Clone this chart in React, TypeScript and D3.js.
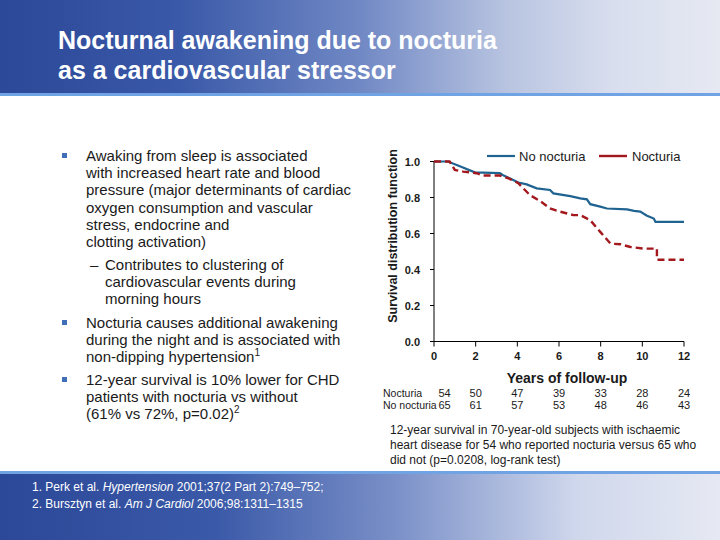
import React from "react";
import * as d3 from "d3";

const titleLines = ["Nocturnal awakening due to nocturia", "as a cardiovascular stressor"];

const yearsNoNocturia = [0, 0.67, 1.24, 1.96, 3.16, 3.3, 4.05, 4.45, 4.93, 5.57, 5.73, 6.54, 7.02, 7.34, 7.5, 7.98, 8.3, 9.27, 9.6, 9.9, 10.2, 10.55, 10.63, 12];
const survNoNocturia = [1.0, 1.0, 0.974, 0.94, 0.935, 0.925, 0.883, 0.873, 0.851, 0.842, 0.823, 0.808, 0.795, 0.79, 0.763, 0.749, 0.739, 0.734, 0.726, 0.722, 0.7, 0.683, 0.665, 0.665];

const yearsNocturia = [0, 0.75, 1.0, 1.4, 2.04, 2.36, 3.16, 3.57, 4.05, 4.6, 5.1, 5.57, 6.06, 6.7, 7.02, 7.5, 7.98, 8.47, 8.95, 9.43, 10.07, 10.7, 10.7, 12];
const survNocturia = [1.0, 1.0, 0.953, 0.944, 0.935, 0.922, 0.922, 0.907, 0.879, 0.814, 0.78, 0.739, 0.721, 0.702, 0.702, 0.674, 0.609, 0.544, 0.54, 0.525, 0.516, 0.516, 0.454, 0.454];

const xTicks = [0, 2, 4, 6, 8, 10, 12];
const yTicks = [0, 0.2, 0.4, 0.6, 0.8, 1.0];
const atRiskNocturia = [54, 50, 47, 39, 33, 28, 24];
const atRiskNoNocturia = [65, 61, 57, 53, 48, 46, 43];

const seriesNames = ["No nocturia", "Nocturia"];

const captionLines = [
  "12-year survival in 70-year-old subjects with ischaemic",
  "heart disease for 54 who reported nocturia versus 65 who",
  "did not (p=0.0208, log-rank test)",
];

const BLUE = "#1f6391";
const RED = "#a3181d";
const TXT = "#1a1a1a";
const FONT = "'Liberation Sans', Arial, sans-serif";

export default function App() {
  const x = d3.scaleLinear().domain([0, 12]).range([434, 684]);
  const y = d3.scaleLinear().domain([0, 1]).range([341.5, 161.5]);

  const line = d3
    .line<[number, number]>()
    .x((d) => x(d[0]))
    .y((d) => y(d[1]));

  const blueData: [number, number][] = yearsNoNocturia.map((t, i) => [t, survNoNocturia[i]]);
  const redData: [number, number][] = yearsNocturia.map((t, i) => [t, survNocturia[i]]);

  const bullet = (cx: number, cy: number) => (
    <rect x={cx} y={cy - 3} width={5} height={5} fill="#3f6fb6" />
  );

  const lh = 17.2;
  const para1 = [
    "Awaking from sleep is associated",
    "with increased heart rate and blood",
    "pressure (major determinants of cardiac",
    "oxygen consumption and vascular",
    "stress, endocrine and",
    "clotting activation)",
  ];
  const sub = ["Contributes to clustering of", "cardiovascular events during", "morning hours"];
  const para2 = ["Nocturia causes additional awakening", "during the night and is associated with"];
  const para3 = ["12-year survival is 10% lower for CHD", "patients with nocturia vs without"];

  return (
    <svg
      width={720}
      height={540}
      style={{ position: "absolute", left: 0, top: 0 }}
      fontFamily={FONT}
    >
      <defs>
        <linearGradient id="hdr" x1="0" x2="1" y1="0" y2="0">
          <stop offset="0" stopColor="#2c4898" />
          <stop offset="0.25" stopColor="#3a59a8" />
          <stop offset="0.5" stopColor="#7088c4" />
          <stop offset="0.7" stopColor="#b7c3e0" />
          <stop offset="0.85" stopColor="#d8deee" />
          <stop offset="1" stopColor="#e6e9f2" />
        </linearGradient>
        <linearGradient id="ftr" x1="0" x2="1" y1="0" y2="0">
          <stop offset="0" stopColor="#2c4898" />
          <stop offset="0.3" stopColor="#3a59a8" />
          <stop offset="0.55" stopColor="#7a90c8" />
          <stop offset="0.8" stopColor="#cfd7ec" />
          <stop offset="1" stopColor="#e6e9f3" />
        </linearGradient>
      </defs>
      <rect x={0} y={0} width={720} height={540} fill="#ffffff" />
      <rect x={0} y={0} width={720} height={93} fill="url(#hdr)" />
      <rect x={0} y={93} width={720} height={3} fill="#6fa3e3" />
      <rect x={0} y={471} width={720} height={3} fill="#6fa3e3" />
      <rect x={0} y={474} width={720} height={66} fill="url(#ftr)" />

      {titleLines.map((t, i) => (
        <text key={t} x={58} y={49 + i * 30} fill="#ffffff" fontSize={25} fontWeight="bold">
          {t}
        </text>
      ))}

      {/* left bullet text */}
      <g fontSize={15} fill={TXT}>
        {bullet(62, 156)}
        {para1.map((t, i) => (
          <text key={t} x={86} y={161 + i * lh}>
            {t}
          </text>
        ))}
        <text x={90} y={270}>–</text>
        {sub.map((t, i) => (
          <text key={t} x={105} y={270 + i * lh}>
            {t}
          </text>
        ))}
        {bullet(62, 323)}
        {para2.map((t, i) => (
          <text key={t} x={86} y={328 + i * lh}>
            {t}
          </text>
        ))}
        <text x={86} y={328 + 2 * lh}>
          non-dipping hypertension
          <tspan fontSize={10} dy={-6}>1</tspan>
        </text>
        {bullet(62, 380)}
        {para3.map((t, i) => (
          <text key={t} x={86} y={385 + i * lh}>
            {t}
          </text>
        ))}
        <text x={86} y={385 + 2 * lh}>
          (61% vs 72%, p=0.02)
          <tspan fontSize={10} dy={-6}>2</tspan>
        </text>
      </g>

      {/* footer refs */}
      <g fontSize={12} fill="#ffffff">
        <text x={32} y={491}>
          1. Perk et al. <tspan fontStyle="italic">Hypertension</tspan> 2001;37(2 Part 2):749–752;
        </text>
        <text x={32} y={508}>
          2. Bursztyn et al. <tspan fontStyle="italic">Am J Cardiol</tspan> 2006;98:1311–1315
        </text>
      </g>

      {/* axes */}
      <g stroke="#000" strokeWidth={1} fill="none">
        <line x1={x(0)} x2={x(0)} y1={y(0)} y2={y(1)} />
        <line x1={x(0)} x2={x(12)} y1={y(0)} y2={y(0)} />
        {yTicks.map((v) => (
          <line key={"yt" + v} x1={x(0) - 4} x2={x(0)} y1={y(v)} y2={y(v)} />
        ))}
        {xTicks.map((v) => (
          <line key={"xt" + v} x1={x(v)} x2={x(v)} y1={y(0)} y2={y(0) + 5} />
        ))}
      </g>
      <g fontSize={11} fontWeight="bold" fill={TXT}>
        {yTicks.map((v) => (
          <text key={"yl" + v} x={x(0) - 14} y={y(v) + 4} textAnchor="end">
            {v.toFixed(1)}
          </text>
        ))}
        {xTicks.map((v) => (
          <text key={"xl" + v} x={x(v)} y={y(0) + 18} textAnchor="middle">
            {v}
          </text>
        ))}
      </g>
      <text
        transform={`translate(397,236) rotate(-90)`}
        textAnchor="middle"
        fontSize={12.5}
        fontWeight="bold"
        fill={TXT}
      >
        Survival distribution function
      </text>

      {/* curves */}
      <path d={line(blueData) || ""} fill="none" stroke={BLUE} strokeWidth={2.2} />
      <path
        d={line(redData) || ""}
        fill="none"
        stroke={RED}
        strokeWidth={2.4}
        strokeDasharray="7,4"
      />

      {/* legend */}
      <line x1={487} x2={515} y1={156} y2={156} stroke={BLUE} strokeWidth={2.2} />
      <text x={519} y={160.5} fontSize={13} fill={TXT}>
        {seriesNames[0]}
      </text>
      <line x1={599} x2={627} y1={156} y2={156} stroke={RED} strokeWidth={2.4} />
      <text x={632} y={160.5} fontSize={13} fill={TXT}>
        {seriesNames[1]}
      </text>

      {/* years label + at-risk table */}
      <text x={567} y={383} textAnchor="middle" fontSize={14} fontWeight="bold" fill={TXT}>
        Years of follow-up
      </text>
      <g fontSize={10.5} fill={TXT}>
        <text x={383} y={397}>Nocturia</text>
        <text x={383} y={409}>No nocturia</text>
      </g>
      <g fontSize={11} fill={TXT}>
        {atRiskNocturia.map((v, i) => (
          <text key={"n" + i} x={x(xTicks[i]) + (i === 0 ? 10.5 : 0)} y={397} textAnchor="middle">
            {v}
          </text>
        ))}
        {atRiskNoNocturia.map((v, i) => (
          <text key={"nn" + i} x={x(xTicks[i]) + (i === 0 ? 10.5 : 0)} y={409} textAnchor="middle">
            {v}
          </text>
        ))}
      </g>
      <g fontSize={12} fill={TXT}>
        {captionLines.map((t, i) => (
          <text key={t} x={390} y={434 + i * 15}>
            {t}
          </text>
        ))}
      </g>
    </svg>
  );
}
